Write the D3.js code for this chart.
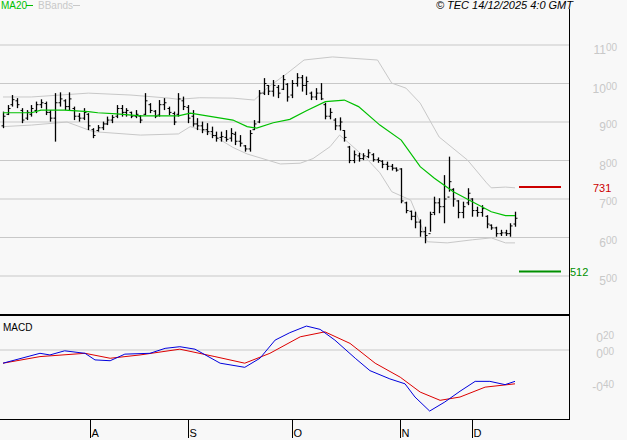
<!DOCTYPE html>
<html><head><meta charset="utf-8">
<script src="https://cdn.jsdelivr.net/npm/d3@7"></script>
<style>body{margin:0;background:#f8f8f8}svg{display:block}</style>
</head><body><div id="chart"></div>
<script>
// daily bars, one entry per session (Jul -> 12 Dec)
var highs=[927,944,970,962,936,931,944,953,959,953,931,975,977,959,977,940,923,936,923,884,892,901,914,918,944,944,936,927,931,918,975,949,931,957,962,940,927,975,966,944,931,910,901,897,888,875,875,879,884,875,866,840,879,905,983,1014,996,1009,996,1022,1001,1009,1027,1022,1018,979,988,1001,950,936,910,912,879,838,826,820,819,829,819,808,801,797,791,782,780,693,670,667,647,628,667,706,702,762,810,728,697,693,728,702,680,684,658,634,628,620,620,637,667];
var lows=[884,918,940,936,897,905,914,923,936,918,901,849,940,931,931,905,901,905,879,858,875,879,892,897,910,914,914,910,910,897,918,923,910,914,931,918,892,914,931,897,888,879,871,866,858,849,849,849,849,840,836,823,823,879,897,970,970,966,962,983,953,962,992,979,970,957,957,957,907,907,879,878,849,793,793,797,801,806,797,794,780,775,774,771,689,663,645,624,602,585,615,658,663,637,719,680,650,650,684,654,654,654,624,620,602,604,604,602,628];
var opens=[890,920,945,955,930,910,920,930,945,948,925,910,950,955,940,935,915,910,920,880,878,885,895,905,915,935,925,925,915,915,920,945,928,918,945,935,922,920,955,938,915,895,890,880,875,865,860,860,858,868,850,838,830,880,900,975,995,980,990,985,998,970,1000,1015,995,975,965,975,945,915,905,890,878,835,800,812,805,810,815,802,798,790,785,780,778,690,668,655,640,615,610,665,690,680,705,725,695,665,690,700,670,665,655,632,625,610,612,610,635];
var closes=[915,935,958,945,905,925,935,945,950,925,910,950,960,940,960,915,910,925,890,865,885,895,905,912,935,925,930,915,920,905,955,930,915,945,950,925,900,960,940,910,895,890,880,875,865,858,862,855,870,850,845,830,870,895,975,1000,980,995,975,1010,965,1000,1015,995,1005,965,975,960,915,925,890,900,860,800,815,805,812,820,802,800,790,785,780,775,695,670,655,640,615,605,660,690,680,700,745,700,665,680,715,670,665,675,635,625,610,612,610,630,650];
// indicators: [session index, value]
var ma20=[[0,924],[6,924],[8,931],[13,931],[18,927],[20,924],[24,921],[29,916],[37,916],[39.5,923],[44,914],[48.5,905],[51.5,888],[53.5,884],[57,898],[60.5,907],[64,929],[68,953],[72,957],[75,940],[79.5,892],[84,853],[88,784],[91,754],[95,719],[99,693],[103,667],[106,657],[108,657]];
var bbUpper=[[0,965],[6,965],[18,975],[27,970],[35,962],[37,959],[41.5,963],[48.5,962],[53,957],[56,991],[60,1027],[63.5,1061],[69.5,1069],[79,1061],[82,1001],[85,988],[88,949],[92,861],[98,801],[102,742],[103,729],[106,731],[108,729]];
var bbLower=[[0,888],[6,892],[13.5,900],[19,875],[29,866],[37,869],[39.5,888],[43,875],[48.5,834],[51.5,817],[58.5,791],[62.7,793],[65.4,805],[69,836],[71,866],[73,845],[77,801],[79.5,768],[82,719],[86,697],[88,638],[89.5,589],[93.7,586],[99,594],[103,599],[106,586],[108,586]];
var macd=[[0,-0.16],[7.8,-0.04],[9.9,-0.06],[13,-0.01],[17.3,-0.04],[19.4,-0.12],[22.6,-0.13],[25.7,-0.05],[31,-0.04],[34.2,0.02],[37.3,0.04],[40.5,0.01],[45.8,-0.16],[51,-0.21],[54.2,-0.10],[57.4,0.12],[60.5,0.21],[64,0.29],[66.9,0.25],[70,0.12],[74.3,-0.10],[77.4,-0.25],[81.6,-0.35],[84.8,-0.41],[86.9,-0.57],[90,-0.74],[93.2,-0.63],[96.4,-0.50],[99.6,-0.38],[102.7,-0.38],[105.9,-0.42],[108,-0.38]];
var signal=[[0,-0.16],[7.8,-0.08],[17.3,-0.04],[22.6,-0.10],[28.9,-0.06],[37.3,0.01],[44.7,-0.08],[51,-0.16],[56.3,-0.04],[62.7,0.16],[67.9,0.22],[73.2,0.08],[78.5,-0.16],[83.8,-0.33],[88,-0.51],[92.2,-0.61],[96.4,-0.57],[101.7,-0.45],[108,-0.41]];
var priceTicks=[500,600,700,800,900,1000,1100];
var macdTicks=[0.2,0,-0.4];
var months=["A","S","O","N","D"];
var monthStarts=[18.4,39,61,83.8,99];
var resistance=731, support=512;

var font="Liberation Sans";
var svg=d3.select("#chart").append("svg").attr("width",627).attr("height",440).attr("font-family",font);
var grey="#c8c8c8", right=569;
var x=d3.scaleLinear().domain([0,108]).range([3,515]);
var y=d3.scaleLinear().domain([500,1100]).range([276,45]);
var ym=d3.scaleLinear().domain([0,0.2]).range([350,333.5]);

// grid + price labels ("11" + small raised "00")
priceTicks.forEach(function(p){
  svg.append("line").attr("x1",0).attr("x2",right).attr("y1",y(p)).attr("y2",y(p)).attr("stroke",grey);
  var s=String(p), t=svg.append("text").attr("x",617).attr("y",y(p)+9).attr("text-anchor","end")
    .attr("fill",grey).attr("font-size",12);
  t.append("tspan").text(s.slice(0,-2));
  t.append("tspan").attr("font-size",10).attr("dy",-3).text(s.slice(-2));
});
svg.append("line").attr("x1",0).attr("x2",right).attr("y1",ym(0)).attr("y2",ym(0)).attr("stroke",grey);
macdTicks.forEach(function(v){
  var head=(v<0?"-":"")+"0", dec=String(Math.round(Math.abs(v)*100)).padStart(2,"0");
  var t=svg.append("text").attr("x",614).attr("y",ym(v)+8).attr("text-anchor","end")
    .attr("fill",grey).attr("font-size",12);
  t.append("tspan").text(head);
  t.append("tspan").attr("font-size",10).attr("dy",-3).text(dec);
});

var line=d3.line().x(function(d){return x(d[0]);}).y(function(d){return y(d[1]);});
svg.append("path").attr("d",line(bbUpper)).attr("fill","none").attr("stroke",grey);
svg.append("path").attr("d",line(bbLower)).attr("fill","none").attr("stroke",grey);

// bars
var g=svg.append("g").attr("stroke","#000");
highs.forEach(function(h,i){
  var cx=Math.round(x(i))+0.5;
  g.append("line").attr("x1",cx).attr("x2",cx).attr("y1",y(h)).attr("y2",y(lows[i])).attr("stroke-width",1.3);
  g.append("line").attr("x1",cx-2).attr("x2",cx).attr("y1",y(opens[i])).attr("y2",y(opens[i]));
  g.append("line").attr("x1",cx).attr("x2",cx+2).attr("y1",y(closes[i])).attr("y2",y(closes[i]));
});
svg.append("path").attr("d",line(ma20)).attr("fill","none").attr("stroke","#00c000").attr("stroke-width",1.2);

// levels
svg.append("line").attr("x1",519).attr("x2",561).attr("y1",y(resistance)).attr("y2",y(resistance)).attr("stroke","#cc0000").attr("stroke-width",2);
svg.append("text").attr("x",593).attr("y",y(resistance)+5).attr("fill","#cc0000").attr("font-size",11).text(resistance);
svg.append("line").attr("x1",519).attr("x2",561).attr("y1",y(support)).attr("y2",y(support)).attr("stroke","#009000").attr("stroke-width",2);
svg.append("text").attr("x",570).attr("y",y(support)+5).attr("fill","#009000").attr("font-size",11).text(support);

// macd
var mline=d3.line().x(function(d){return x(d[0]);}).y(function(d){return ym(d[1]);});
svg.append("path").attr("d",mline(signal)).attr("fill","none").attr("stroke","#dd0000");
svg.append("path").attr("d",mline(macd)).attr("fill","none").attr("stroke","#0000dd");

// frame
svg.append("line").attr("x1",right+0.5).attr("x2",right+0.5).attr("y1",9).attr("y2",419).attr("stroke","#000");
svg.append("line").attr("x1",0).attr("x2",right).attr("y1",315).attr("y2",315).attr("stroke","#000").attr("stroke-width",2);
svg.append("line").attr("x1",0).attr("x2",right+1).attr("y1",419.5).attr("y2",419.5).attr("stroke","#000");
months.forEach(function(m,i){
  var mx=Math.round(x(monthStarts[i]))+0.5;
  svg.append("line").attr("x1",mx).attr("x2",mx).attr("y1",419).attr("y2",438).attr("stroke","#000");
  svg.append("text").attr("x",mx+1).attr("y",437).attr("font-size",11).text(m);
});

// legend + titles
svg.append("text").attr("x",1).attr("y",9).attr("fill","#00c000").attr("font-size",10).text("MA20");
svg.append("line").attr("x1",26).attr("x2",33).attr("y1",5.5).attr("y2",5.5).attr("stroke","#00c000");
svg.append("text").attr("x",38).attr("y",9).attr("fill",grey).attr("font-size",10).text("BBands");
svg.append("line").attr("x1",73).attr("x2",80).attr("y1",5.5).attr("y2",5.5).attr("stroke",grey);
svg.append("text").attr("x",573).attr("y",9).attr("text-anchor","end").attr("font-style","italic").attr("font-size",11).text("© TEC 14/12/2025 4:0 GMT");
svg.append("text").attr("x",3).attr("y",331).attr("font-size",10).text("MACD");
</script></body></html>
